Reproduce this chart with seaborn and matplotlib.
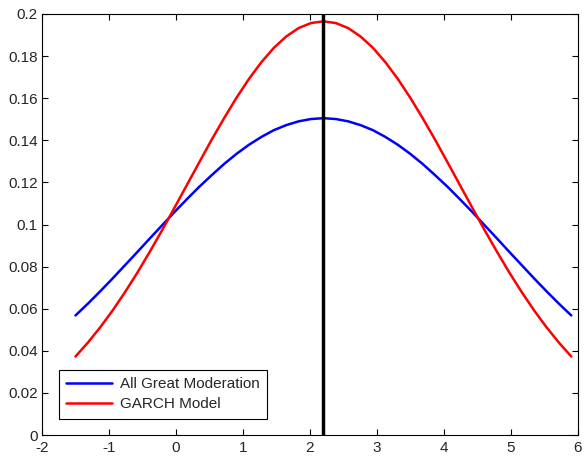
import matplotlib
matplotlib.use("Agg")
import matplotlib.pyplot as plt
import seaborn as sns
import pandas as pd

# Density curves for the two volatility estimates
x_vals = [-1.5, -1.315, -1.13, -0.945, -0.76, -0.575, -0.39, -0.205, -0.02, 0.165,
          0.35, 0.535, 0.72, 0.905, 1.09, 1.275, 1.46, 1.645, 1.83, 2.015,
          2.2, 2.385, 2.57, 2.755, 2.94, 3.125, 3.31, 3.495, 3.68, 3.865,
          4.05, 4.235, 4.42, 4.605, 4.79, 4.975, 5.16, 5.345, 5.53, 5.715, 5.9]

great_moderation = [0.0568, 0.0624, 0.0683, 0.0744, 0.0807, 0.0870, 0.0934, 0.0997, 0.1060, 0.1121,
                    0.1180, 0.1235, 0.1288, 0.1336, 0.1379, 0.1416, 0.1448, 0.1472, 0.1490, 0.1501,
                    0.1505, 0.1501, 0.1490, 0.1472, 0.1448, 0.1416, 0.1379, 0.1336, 0.1288, 0.1235,
                    0.1180, 0.1121, 0.1060, 0.0997, 0.0934, 0.0870, 0.0807, 0.0744, 0.0683, 0.0624, 0.0568]

garch_model = [0.0373, 0.0439, 0.0512, 0.0592, 0.0679, 0.0772, 0.0871, 0.0974, 0.1081, 0.1189,
               0.1297, 0.1404, 0.1506, 0.1603, 0.1692, 0.1771, 0.1839, 0.1893, 0.1933, 0.1957,
               0.1965, 0.1957, 0.1933, 0.1893, 0.1839, 0.1771, 0.1692, 0.1603, 0.1506, 0.1404,
               0.1297, 0.1189, 0.1081, 0.0974, 0.0871, 0.0772, 0.0679, 0.0592, 0.0512, 0.0439, 0.0373]

series_names = ["All Great Moderation", "GARCH Model"]
series_colors = ["#0000ff", "#ff0000"]
mean_value = 2.2

x_ticks = [-2, -1, 0, 1, 2, 3, 4, 5, 6]
y_ticks = [0, 0.02, 0.04, 0.06, 0.08, 0.1, 0.12, 0.14, 0.16, 0.18, 0.2]

df = pd.concat([
    pd.DataFrame({"x": x_vals, "density": great_moderation, "series": series_names[0]}),
    pd.DataFrame({"x": x_vals, "density": garch_model, "series": series_names[1]}),
], ignore_index=True)

sns.set_style("ticks")
plt.rcParams["font.family"] = ["Liberation Sans", "DejaVu Sans"]
plt.rcParams["xtick.direction"] = "in"
plt.rcParams["ytick.direction"] = "in"

fig = plt.figure(figsize=(5.84, 4.57), dpi=100)
ax = fig.add_axes([0.0719, 0.0481, 0.9178, 0.9213])

sns.lineplot(data=df, x="x", y="density", hue="series", hue_order=series_names,
             palette=series_colors, linewidth=1.8, ax=ax, sort=False)
ax.axvline(mean_value, color="black", linewidth=2.5, zorder=3)

ax.set_xlim(-2, 6)
ax.set_ylim(0, 0.2)
ax.set_xticks(x_ticks)
ax.set_xticklabels([f"{t:g}" for t in x_ticks])
ax.set_yticks(y_ticks)
ax.set_yticklabels([f"{t:g}" for t in y_ticks])
ax.set_xlabel("")
ax.set_ylabel("")
ax.tick_params(axis="both", labelsize=11, length=4, width=0.8, color="black",
               top=True, right=True)
ax.tick_params(axis="x", pad=4)
ax.tick_params(axis="y", pad=3)
for spine in ax.spines.values():
    spine.set_visible(True)
    spine.set_color("black")
    spine.set_linewidth(0.8)

leg = ax.legend(loc="lower left", bbox_to_anchor=(0.017, 0.02), fontsize=11,
                frameon=True, fancybox=False, edgecolor="black", framealpha=1,
                handlelength=3.0, handletextpad=0.5, borderpad=0.5, labelspacing=0.4)
leg.get_frame().set_linewidth(0.8)

fig.savefig("out.png", dpi=100)
